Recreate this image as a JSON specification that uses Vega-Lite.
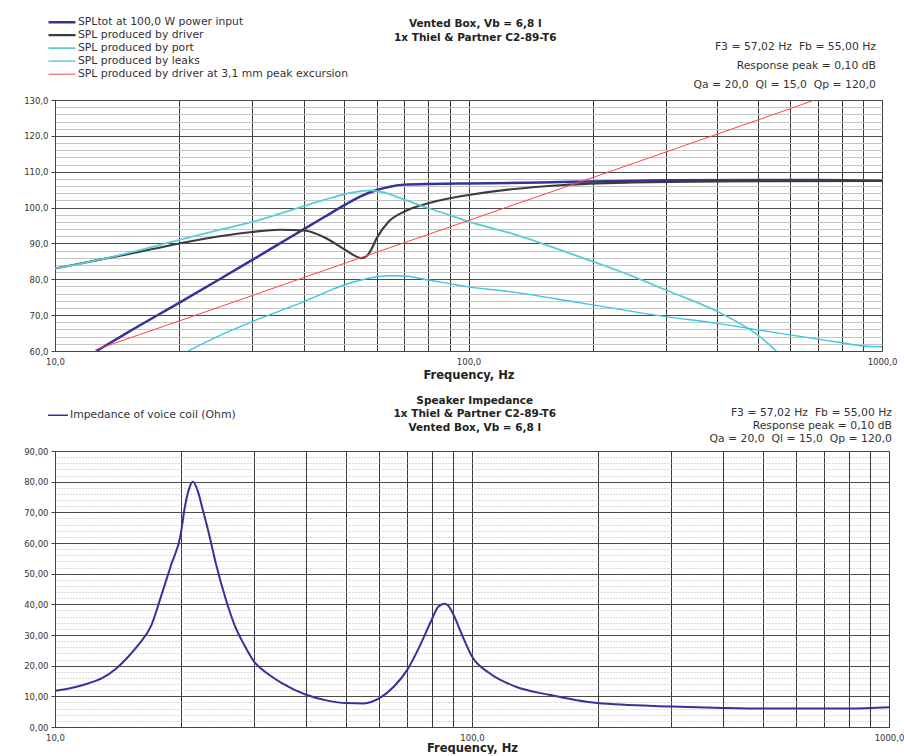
{
  "$schema": "https://vega.github.io/schema/vega-lite/v6.json",
  "background": "white",
  "padding": {"left": 23, "top": 16, "right": 0, "bottom": 0},
  "spacing": 14,
  "resolve": {"scale": {"x": "independent", "y": "independent", "color": "independent", "strokeWidth": "independent"}, "legend": {"color": "independent", "strokeWidth": "independent"}, "axis": {"x": "independent", "y": "independent"}},
  "config": {
    "font": "DejaVu Sans",
    "view": {"stroke": null},
    "axis": {"labelFont": "DejaVu Sans", "labelFontSize": 8.5, "labelColor": "#333333", "domainColor": "#444444", "tickColor": "#444444", "titleFont": "DejaVu Sans", "titleFontWeight": "bold", "titleFontSize": 11.5, "titleColor": "#222222"},
    "title": {"font": "DejaVu Sans", "color": "#222222"},
    "legend": {"labelFont": "DejaVu Sans"}
  },
  "datasets": {
    "spl": [
      {"s": "SPLtot at 100,0 W power input", "f": 12.6, "db": 60},
      {"s": "SPLtot at 100,0 W power input", "f": 15, "db": 65.2},
      {"s": "SPLtot at 100,0 W power input", "f": 20, "db": 73.5},
      {"s": "SPLtot at 100,0 W power input", "f": 25, "db": 80},
      {"s": "SPLtot at 100,0 W power input", "f": 30, "db": 85.4},
      {"s": "SPLtot at 100,0 W power input", "f": 35, "db": 90},
      {"s": "SPLtot at 100,0 W power input", "f": 40, "db": 94},
      {"s": "SPLtot at 100,0 W power input", "f": 45, "db": 97.5},
      {"s": "SPLtot at 100,0 W power input", "f": 50, "db": 100.6},
      {"s": "SPLtot at 100,0 W power input", "f": 55, "db": 103.2},
      {"s": "SPLtot at 100,0 W power input", "f": 60, "db": 104.9},
      {"s": "SPLtot at 100,0 W power input", "f": 65, "db": 105.9},
      {"s": "SPLtot at 100,0 W power input", "f": 70, "db": 106.4},
      {"s": "SPLtot at 100,0 W power input", "f": 80, "db": 106.6},
      {"s": "SPLtot at 100,0 W power input", "f": 100, "db": 106.7},
      {"s": "SPLtot at 100,0 W power input", "f": 150, "db": 107},
      {"s": "SPLtot at 100,0 W power input", "f": 200, "db": 107.3},
      {"s": "SPLtot at 100,0 W power input", "f": 300, "db": 107.6},
      {"s": "SPLtot at 100,0 W power input", "f": 500, "db": 107.7},
      {"s": "SPLtot at 100,0 W power input", "f": 700, "db": 107.7},
      {"s": "SPLtot at 100,0 W power input", "f": 1000, "db": 107.5},
      {"s": "SPL produced by driver", "f": 10, "db": 83},
      {"s": "SPL produced by driver", "f": 12.5, "db": 85.2},
      {"s": "SPL produced by driver", "f": 15, "db": 87},
      {"s": "SPL produced by driver", "f": 20, "db": 90},
      {"s": "SPL produced by driver", "f": 25, "db": 92},
      {"s": "SPL produced by driver", "f": 30, "db": 93.2},
      {"s": "SPL produced by driver", "f": 35, "db": 93.8},
      {"s": "SPL produced by driver", "f": 40, "db": 93.6},
      {"s": "SPL produced by driver", "f": 45, "db": 91.6},
      {"s": "SPL produced by driver", "f": 50, "db": 88.4},
      {"s": "SPL produced by driver", "f": 53, "db": 86.6},
      {"s": "SPL produced by driver", "f": 55, "db": 85.9},
      {"s": "SPL produced by driver", "f": 56.5, "db": 86.3},
      {"s": "SPL produced by driver", "f": 58, "db": 88},
      {"s": "SPL produced by driver", "f": 60, "db": 91.5},
      {"s": "SPL produced by driver", "f": 64, "db": 96},
      {"s": "SPL produced by driver", "f": 70, "db": 98.9},
      {"s": "SPL produced by driver", "f": 80, "db": 101.2},
      {"s": "SPL produced by driver", "f": 90, "db": 102.6},
      {"s": "SPL produced by driver", "f": 100, "db": 103.5},
      {"s": "SPL produced by driver", "f": 127, "db": 105.1},
      {"s": "SPL produced by driver", "f": 170, "db": 106.3},
      {"s": "SPL produced by driver", "f": 250, "db": 107},
      {"s": "SPL produced by driver", "f": 400, "db": 107.3},
      {"s": "SPL produced by driver", "f": 1000, "db": 107.4},
      {"s": "SPL produced by port", "f": 10, "db": 83},
      {"s": "SPL produced by port", "f": 12.5, "db": 85.2},
      {"s": "SPL produced by port", "f": 15, "db": 87.3},
      {"s": "SPL produced by port", "f": 20, "db": 91},
      {"s": "SPL produced by port", "f": 25, "db": 93.8},
      {"s": "SPL produced by port", "f": 30, "db": 96},
      {"s": "SPL produced by port", "f": 35, "db": 98.3},
      {"s": "SPL produced by port", "f": 40, "db": 100.4},
      {"s": "SPL produced by port", "f": 45, "db": 102.2},
      {"s": "SPL produced by port", "f": 50, "db": 103.7},
      {"s": "SPL produced by port", "f": 55, "db": 104.6},
      {"s": "SPL produced by port", "f": 58, "db": 104.8},
      {"s": "SPL produced by port", "f": 62, "db": 104.3},
      {"s": "SPL produced by port", "f": 70, "db": 102.2},
      {"s": "SPL produced by port", "f": 80, "db": 99.8},
      {"s": "SPL produced by port", "f": 90, "db": 97.9},
      {"s": "SPL produced by port", "f": 100, "db": 96.1},
      {"s": "SPL produced by port", "f": 127, "db": 92.8},
      {"s": "SPL produced by port", "f": 185, "db": 86.3},
      {"s": "SPL produced by port", "f": 250, "db": 80.8},
      {"s": "SPL produced by port", "f": 300, "db": 77},
      {"s": "SPL produced by port", "f": 400, "db": 71},
      {"s": "SPL produced by port", "f": 500, "db": 64.5},
      {"s": "SPL produced by port", "f": 555, "db": 60},
      {"s": "SPL produced by leaks", "f": 21, "db": 60},
      {"s": "SPL produced by leaks", "f": 25, "db": 64.3},
      {"s": "SPL produced by leaks", "f": 30, "db": 68.2},
      {"s": "SPL produced by leaks", "f": 35, "db": 71.2},
      {"s": "SPL produced by leaks", "f": 40, "db": 73.8},
      {"s": "SPL produced by leaks", "f": 45, "db": 76.3},
      {"s": "SPL produced by leaks", "f": 50, "db": 78.4},
      {"s": "SPL produced by leaks", "f": 55, "db": 79.8},
      {"s": "SPL produced by leaks", "f": 60, "db": 80.7},
      {"s": "SPL produced by leaks", "f": 65, "db": 81},
      {"s": "SPL produced by leaks", "f": 70, "db": 80.9},
      {"s": "SPL produced by leaks", "f": 80, "db": 79.8},
      {"s": "SPL produced by leaks", "f": 90, "db": 78.8},
      {"s": "SPL produced by leaks", "f": 100, "db": 77.9},
      {"s": "SPL produced by leaks", "f": 127, "db": 76.5},
      {"s": "SPL produced by leaks", "f": 185, "db": 73.5},
      {"s": "SPL produced by leaks", "f": 300, "db": 69.6},
      {"s": "SPL produced by leaks", "f": 400, "db": 67.7},
      {"s": "SPL produced by leaks", "f": 500, "db": 65.9},
      {"s": "SPL produced by leaks", "f": 600, "db": 64.5},
      {"s": "SPL produced by leaks", "f": 800, "db": 62.3},
      {"s": "SPL produced by leaks", "f": 900, "db": 61.4},
      {"s": "SPL produced by leaks", "f": 1000, "db": 61.2},
      {"s": "SPL produced by driver at 3,1 mm peak excursion", "f": 12.5, "db": 60.3},
      {"s": "SPL produced by driver at 3,1 mm peak excursion", "f": 20, "db": 68.4},
      {"s": "SPL produced by driver at 3,1 mm peak excursion", "f": 50, "db": 84.4},
      {"s": "SPL produced by driver at 3,1 mm peak excursion", "f": 100, "db": 96.4},
      {"s": "SPL produced by driver at 3,1 mm peak excursion", "f": 200, "db": 108.4},
      {"s": "SPL produced by driver at 3,1 mm peak excursion", "f": 500, "db": 124.4},
      {"s": "SPL produced by driver at 3,1 mm peak excursion", "f": 680, "db": 129.8}
    ],
    "imp": [
      {"s": "Impedance of voice coil (Ohm)", "f": 10, "z": 11.8},
      {"s": "Impedance of voice coil (Ohm)", "f": 11, "z": 12.8},
      {"s": "Impedance of voice coil (Ohm)", "f": 12, "z": 14.2},
      {"s": "Impedance of voice coil (Ohm)", "f": 13, "z": 16},
      {"s": "Impedance of voice coil (Ohm)", "f": 14, "z": 19},
      {"s": "Impedance of voice coil (Ohm)", "f": 15, "z": 23},
      {"s": "Impedance of voice coil (Ohm)", "f": 16, "z": 27.5},
      {"s": "Impedance of voice coil (Ohm)", "f": 17, "z": 33},
      {"s": "Impedance of voice coil (Ohm)", "f": 18, "z": 43},
      {"s": "Impedance of voice coil (Ohm)", "f": 19, "z": 53},
      {"s": "Impedance of voice coil (Ohm)", "f": 20, "z": 62.5},
      {"s": "Impedance of voice coil (Ohm)", "f": 20.5, "z": 72},
      {"s": "Impedance of voice coil (Ohm)", "f": 21, "z": 78},
      {"s": "Impedance of voice coil (Ohm)", "f": 21.4, "z": 80},
      {"s": "Impedance of voice coil (Ohm)", "f": 22, "z": 77},
      {"s": "Impedance of voice coil (Ohm)", "f": 22.5, "z": 72},
      {"s": "Impedance of voice coil (Ohm)", "f": 23.4, "z": 63},
      {"s": "Impedance of voice coil (Ohm)", "f": 24.3, "z": 53.4},
      {"s": "Impedance of voice coil (Ohm)", "f": 25.7, "z": 41.5},
      {"s": "Impedance of voice coil (Ohm)", "f": 27, "z": 33},
      {"s": "Impedance of voice coil (Ohm)", "f": 28.5, "z": 26.5},
      {"s": "Impedance of voice coil (Ohm)", "f": 30, "z": 21.4},
      {"s": "Impedance of voice coil (Ohm)", "f": 32.5, "z": 17.2},
      {"s": "Impedance of voice coil (Ohm)", "f": 35, "z": 14.3},
      {"s": "Impedance of voice coil (Ohm)", "f": 40, "z": 10.5},
      {"s": "Impedance of voice coil (Ohm)", "f": 45, "z": 8.6},
      {"s": "Impedance of voice coil (Ohm)", "f": 50, "z": 7.8},
      {"s": "Impedance of voice coil (Ohm)", "f": 55, "z": 7.7},
      {"s": "Impedance of voice coil (Ohm)", "f": 60, "z": 9.4},
      {"s": "Impedance of voice coil (Ohm)", "f": 65, "z": 13.2},
      {"s": "Impedance of voice coil (Ohm)", "f": 70, "z": 18.7},
      {"s": "Impedance of voice coil (Ohm)", "f": 75, "z": 26.5},
      {"s": "Impedance of voice coil (Ohm)", "f": 80, "z": 34.9},
      {"s": "Impedance of voice coil (Ohm)", "f": 83, "z": 39.2},
      {"s": "Impedance of voice coil (Ohm)", "f": 86, "z": 40.2},
      {"s": "Impedance of voice coil (Ohm)", "f": 88, "z": 39.3},
      {"s": "Impedance of voice coil (Ohm)", "f": 90, "z": 37},
      {"s": "Impedance of voice coil (Ohm)", "f": 95, "z": 29.5},
      {"s": "Impedance of voice coil (Ohm)", "f": 100, "z": 23},
      {"s": "Impedance of voice coil (Ohm)", "f": 110, "z": 17.6},
      {"s": "Impedance of voice coil (Ohm)", "f": 127, "z": 13.2},
      {"s": "Impedance of voice coil (Ohm)", "f": 153, "z": 10.5},
      {"s": "Impedance of voice coil (Ohm)", "f": 200, "z": 7.8},
      {"s": "Impedance of voice coil (Ohm)", "f": 300, "z": 6.7},
      {"s": "Impedance of voice coil (Ohm)", "f": 400, "z": 6.2},
      {"s": "Impedance of voice coil (Ohm)", "f": 500, "z": 6.0},
      {"s": "Impedance of voice coil (Ohm)", "f": 600, "z": 6.0},
      {"s": "Impedance of voice coil (Ohm)", "f": 800, "z": 6.0},
      {"s": "Impedance of voice coil (Ohm)", "f": 1000, "z": 6.4}
    ]
  },
  "vconcat": [
    {
      "title": {"text": ["Vented Box, Vb = 6,8 l", "1x Thiel & Partner C2-89-T6"], "anchor": "middle", "fontSize": 10.5, "fontWeight": "bold", "lineHeight": 13.5, "dx": 15, "offset": -27},
      "vconcat": [
        {
          "title": {"text": ["F3 = 57,02 Hz\u00a0\u00a0Fb = 55,00 Hz", "Response peak = 0,10 dB", "Qa = 20,0\u00a0\u00a0Ql = 15,0\u00a0\u00a0Qp = 120,0"], "anchor": "end", "frame": "group", "fontSize": 10.8, "fontWeight": "normal", "lineHeight": 19, "dx": -6, "offset": 6, "color": "#333333"},
          "width": 827,
          "height": 251,
          "data": {"name": "spl"},
          "mark": {"type": "line", "interpolate": "monotone", "clip": true},
          "encoding": {
            "x": {"field": "f", "type": "quantitative", "scale": {"type": "log", "domain": [10, 1000], "nice": false},
              "axis": {"title": "Frequency, Hz", "values": [10, 20, 30, 40, 50, 60, 70, 80, 90, 100, 200, 300, 400, 500, 600, 700, 800, 900, 1000],
                "labelExpr": "datum.value == 10 ? '10,0' : datum.value == 100 ? '100,0' : datum.value == 1000 ? '1000,0' : ''",
                "grid": true, "gridColor": "#3a3a3a", "gridOpacity": 1, "ticks": false, "labelPadding": 6, "titlePadding": 4, "labelFlush": false}},
            "y": {"field": "db", "type": "quantitative", "scale": {"domain": [60, 130], "nice": false, "zero": false},
              "axis": {"title": null, "values": [60, 62, 64, 66, 68, 70, 72, 74, 76, 78, 80, 82, 84, 86, 88, 90, 92, 94, 96, 98, 100, 102, 104, 106, 108, 110, 112, 114, 116, 118, 120, 122, 124, 126, 128, 130],
                "labelExpr": "datum.value % 10 == 0 ? replace(format(datum.value, '.1f'), '.', ',') : ''",
                "grid": true,
                "gridColor": {"condition": {"test": "datum.value % 10 == 0", "value": "#4a4a4a"}, "value": "#c4c4c4"},
                "tickOpacity": {"condition": {"test": "datum.value % 10 == 0", "value": 1}, "value": 0},
                "tickSize": 4, "labelPadding": 3}},
            "color": {"field": "s", "type": "nominal",
              "scale": {"domain": ["SPLtot at 100,0 W power input", "SPL produced by driver", "SPL produced by port", "SPL produced by leaks", "SPL produced by driver at 3,1 mm peak excursion"],
                "range": ["#333399", "#3c3c3c", "#5ccbd8", "#3cc6e6", "#ff4444"]},
              "legend": {"title": null, "orient": "none", "legendX": -8, "legendY": -84, "symbolType": "stroke", "symbolSize": 729, "symbolStrokeWidth": 1.5, "labelFontSize": 10.8, "labelColor": "#333333", "clipHeight": 12.3, "rowPadding": 0, "labelOffset": 1, "labelLimit": 400}},
            "strokeWidth": {"field": "s", "type": "nominal",
              "scale": {"domain": ["SPLtot at 100,0 W power input", "SPL produced by driver", "SPL produced by port", "SPL produced by leaks", "SPL produced by driver at 3,1 mm peak excursion"], "range": [2.5, 1, 1, 1, 1]},
              "legend": null}
          }
        }
      ]
    },
    {
      "title": {"text": ["Speaker Impedance", "1x Thiel & Partner C2-89-T6", "Vented Box, Vb = 6,8 l"], "anchor": "middle", "fontSize": 10.5, "fontWeight": "bold", "lineHeight": 13.5, "dx": 11, "offset": -26},
      "vconcat": [
        {
          "title": {"text": ["F3 = 57,02 Hz\u00a0\u00a0Fb = 55,00 Hz", "Response peak = 0,10 dB", "Qa = 20,0\u00a0\u00a0Ql = 15,0\u00a0\u00a0Qp = 120,0"], "anchor": "end", "frame": "group", "fontSize": 10.8, "fontWeight": "normal", "lineHeight": 13, "dx": 3, "offset": 3, "color": "#333333"},
          "width": 834,
          "height": 276,
          "data": {"name": "imp"},
          "mark": {"type": "line", "interpolate": "monotone", "clip": true, "strokeWidth": 2},
          "encoding": {
            "x": {"field": "f", "type": "quantitative", "scale": {"type": "log", "domain": [10, 1000], "nice": false},
              "axis": {"title": "Frequency, Hz", "values": [10, 20, 30, 40, 50, 60, 70, 80, 90, 100, 200, 300, 400, 500, 600, 700, 800, 900, 1000],
                "labelExpr": "datum.value == 10 ? '10,0' : datum.value == 100 ? '100,0' : datum.value == 1000 ? '1000,0' : ''",
                "grid": true, "gridColor": "#3a3a3a", "gridOpacity": 1, "ticks": false, "labelPadding": 6, "titlePadding": 1, "labelFlush": false}},
            "y": {"field": "z", "type": "quantitative", "scale": {"domain": [0, 90], "nice": false},
              "axis": {"title": null, "values": [0, 2, 4, 6, 8, 10, 12, 14, 16, 18, 20, 22, 24, 26, 28, 30, 32, 34, 36, 38, 40, 42, 44, 46, 48, 50, 52, 54, 56, 58, 60, 62, 64, 66, 68, 70, 72, 74, 76, 78, 80, 82, 84, 86, 88, 90],
                "labelExpr": "datum.value % 10 == 0 ? replace(format(datum.value, '.2f'), '.', ',') : ''",
                "grid": true,
                "gridColor": {"condition": {"test": "datum.value % 10 == 0", "value": "#4a4a4a"}, "value": "#b4b4b4"},
                "gridDash": {"condition": {"test": "datum.value % 10 == 0", "value": []}, "value": [1, 2]},
                "tickOpacity": {"condition": {"test": "datum.value % 10 == 0", "value": 1}, "value": 0},
                "tickSize": 4, "labelPadding": 3}},
            "color": {"field": "s", "type": "nominal",
              "scale": {"domain": ["Impedance of voice coil (Ohm)"], "range": ["#333399"]},
              "legend": {"title": null, "orient": "none", "legendX": -8, "legendY": -42, "symbolType": "stroke", "symbolSize": 400, "symbolStrokeWidth": 1.5, "labelFontSize": 10.8, "labelColor": "#333333", "clipHeight": 12.3, "labelOffset": 1, "labelLimit": 400}}
          }
        }
      ]
    }
  ]
}
